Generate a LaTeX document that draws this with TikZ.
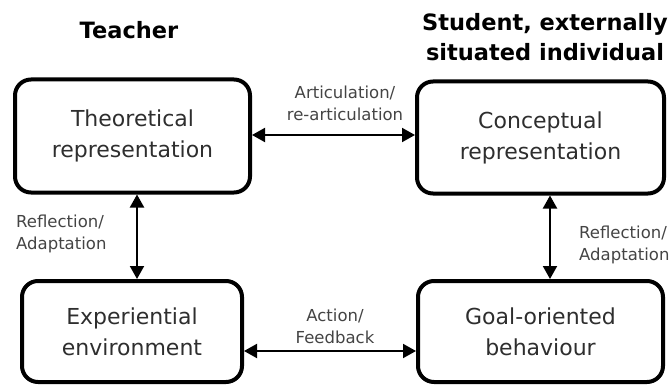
\documentclass[tikz,border=0pt]{standalone}
\usepackage{fontspec}
\setmainfont{DejaVu Sans}
\usetikzlibrary{arrows.meta}
\definecolor{boxtext}{HTML}{2E2E2E}
\definecolor{labtext}{HTML}{444444}
\tikzset{
  boxnode/.style={draw=black, line width=4pt, rounded corners=16pt, align=center,
    text=boxtext, font=\fontsize{22}{31}\selectfont, inner sep=0pt},
  titlenode/.style={align=center, text=black, font=\fontsize{22.5}{30}\selectfont\bfseries, inner sep=0pt},
  labnode/.style={text=labtext, font=\fontsize{16.5}{22}\selectfont, inner sep=0pt},
  dblarrow/.style={line width=2pt, draw=black,
    {Triangle[length=13pt,width=14pt]}-{Triangle[length=13pt,width=14pt]}}
}
\begin{document}
\begin{tikzpicture}[x=1pt,y=-1pt]
\useasboundingbox (0,0) rectangle (672,385);
% titles
\node[titlenode] (teacher) at (129,30) {Teacher};
\node[titlenode] (student) at (545,37) {Student, externally\\situated individual};
% boxes
\node[boxnode, minimum width=235pt, minimum height=113pt] (TR) at (132.5,136) {Theoretical\\representation};
\node[boxnode, minimum width=247pt, minimum height=112pt] (CR) at (540.5,137.5) {Conceptual\\representation};
\node[boxnode, minimum width=220pt, minimum height=101pt] (EE) at (132,331.5) {Experiential\\environment};
\node[boxnode, minimum width=245pt, minimum height=101pt] (GB) at (540.5,331.5) {Goal-oriented\\behaviour};
% connectors
\draw[dblarrow] ([yshift=1pt]TR.east) -- ([yshift=1pt]TR.east -| CR.west);
\draw[dblarrow] ([xshift=4.5pt]TR.south) -- ([xshift=4.5pt]TR.south |- EE.north);
\draw[dblarrow] ([xshift=9.5pt]CR.south) -- ([xshift=9.5pt]CR.south |- GB.north);
\draw[dblarrow] ([yshift=-19.5pt]EE.east) -- ([yshift=-19.5pt]EE.east -| GB.west);
% labels
\node[labnode, align=center] (lab1) at (345,103) {Articulation/\\re-articulation};
\node[labnode, align=left, anchor=west] (lab2) at (16,234) {Reflection/\\Adaptation};
\node[labnode, align=left, anchor=west] (lab3) at (579,244.5) {Reflection/\\Adaptation};
\node[labnode, align=center] (lab4) at (335,326.5) {Action/\\Feedback};
\end{tikzpicture}
\end{document}
